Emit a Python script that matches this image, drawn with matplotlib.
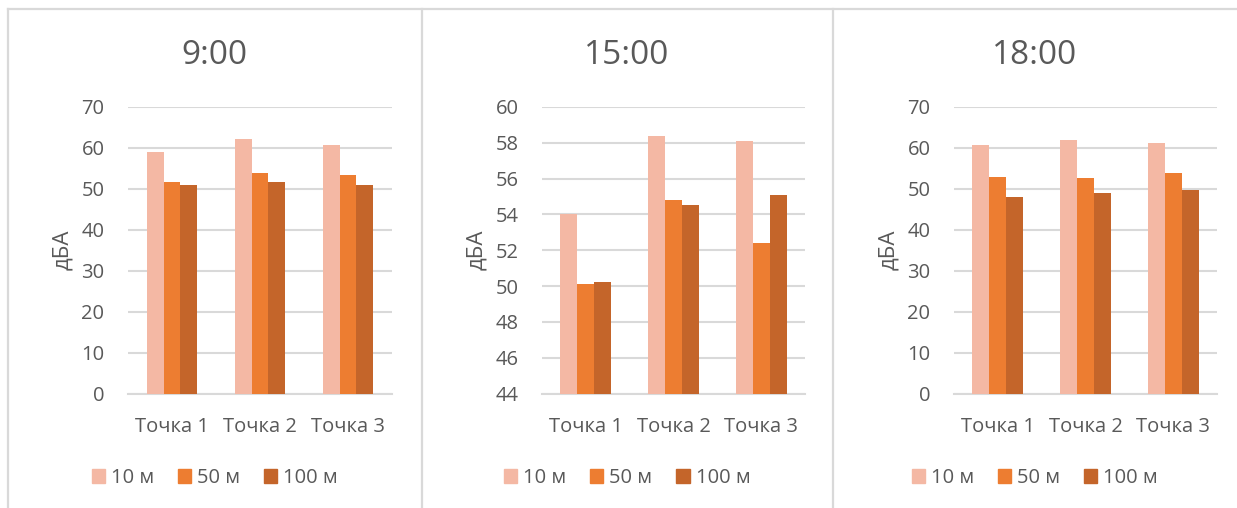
import numpy as np
import matplotlib.pyplot as plt
from matplotlib.lines import Line2D
from matplotlib.patches import Patch

plt.rcParams['font.family'] = ['Open Sans', 'DejaVu Sans']

points = ['Точка 1', 'Точка 2', 'Точка 3']
series = ['10 м', '50 м', '100 м']
colors = ['#F4B8A4', '#ED7D31', '#C4652A']

titles = ['9:00', '15:00', '18:00']
vals_0900 = [[58.9, 62.3, 60.7], [51.6, 53.8, 53.5], [51.0, 51.6, 50.9]]
vals_1500 = [[54.0, 58.4, 58.1], [50.1, 54.8, 52.4], [50.2, 54.5, 55.1]]
vals_1800 = [[60.7, 61.9, 61.3], [52.9, 52.7, 53.9], [48.0, 49.1, 49.8]]
ylims = [(0, 70, 10), (44, 60, 2), (0, 70, 10)]

W, H = 1237, 508
fig = plt.figure(figsize=(W / 100, H / 100), dpi=100)

txt = '#595959'
grid = '#D9D9D9'

# panel frames
def fx(px):
    return px / W

def fy(py):
    return 1 - py / H

for x in [8, 421.5, 832.5]:
    fig.add_artist(Line2D([fx(x), fx(x)], [fy(9), 0], color=grid, lw=1.6))
fig.add_artist(Line2D([fx(8), 1], [fy(9), fy(9)], color=grid, lw=1.6))

panels = [(8, 421.5), (421.5, 832.5), (832.5, 1237)]
axes_x = [(128, 392), (542, 805), (954, 1217)]
data = [vals_0900, vals_1500, vals_1800]

x = np.arange(len(points))
bw = 0.193
for (p0, p1), (a0, a1), title, vals, (lo, hi, step) in zip(panels, axes_x, titles, data, ylims):
    ax = fig.add_axes([fx(a0), fy(393.5), (a1 - a0) / W, (393.5 - 107) / H])
    for i, (s, c) in enumerate(zip(series, colors)):
        ax.bar(x + (i - 1) * bw, vals[i], width=bw, color=c, label=s, zorder=3)
    ax.set_xlim(-0.5, 2.5)
    ax.set_ylim(lo, hi)
    ax.set_yticks(np.arange(lo, hi + step / 2, step))
    ax.set_xticks(x)
    ax.set_xticklabels(points)
    ax.yaxis.grid(True, color=grid, lw=1.5, zorder=0)
    for sp in ['top', 'right', 'left']:
        ax.spines[sp].set_visible(False)
    ax.spines['bottom'].set_color(grid)
    ax.spines['bottom'].set_linewidth(1.5)
    ax.tick_params(axis='both', length=0, labelsize=14.5, colors=txt)
    ax.tick_params(axis='x', pad=17)
    ax.tick_params(axis='y', pad=17)
    ax.set_ylabel('дБА', fontsize=16, color=txt, labelpad=6)

    cx = fx((p0 + p1) / 2)
    fig.text(cx, fy(55), title, ha='center', va='center', fontsize=24, color=txt)
    handles = [Patch(color=c, label=s) for s, c in zip(series, colors)]
    fig.legend(handles=handles, loc='center', bbox_to_anchor=(cx, fy(478)), ncol=3,
               frameon=False, fontsize=14.5, labelcolor=txt, handlelength=0.65,
               handleheight=0.65, handletextpad=0.3, columnspacing=1.2)

fig.savefig('out.png', dpi=100)
